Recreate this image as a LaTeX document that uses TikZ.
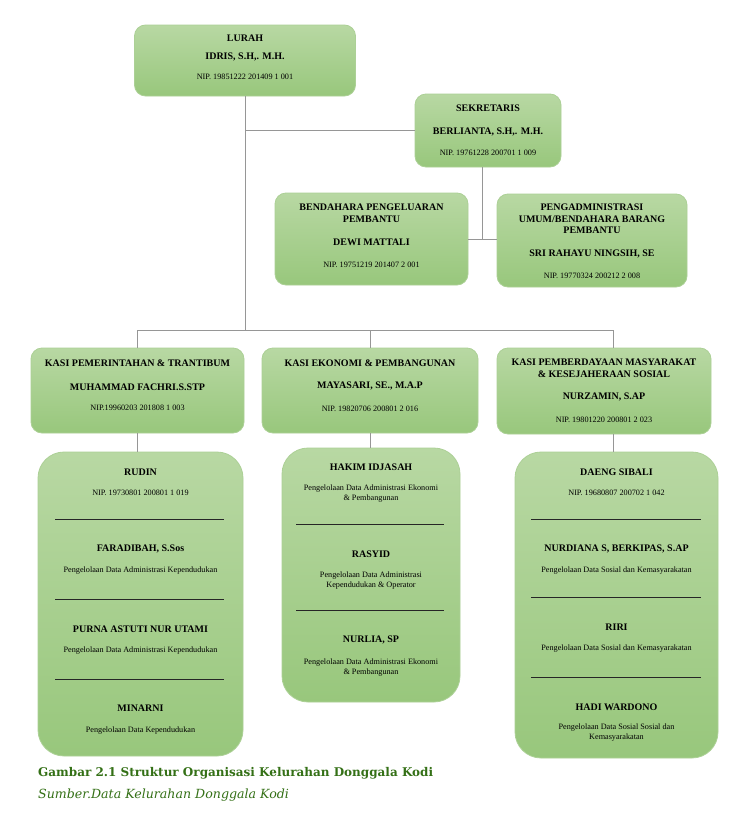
\documentclass[tikz,border=0pt]{standalone}
\usepackage{fontspec}
\setmainfont{Liberation Serif}
\newfontfamily\capfont{DejaVu Serif}
\usetikzlibrary{positioning, calc}

\definecolor{boxtop}{RGB}{184,216,163}
\definecolor{boxbot}{RGB}{152,199,124}
\definecolor{boxline}{RGB}{172,208,150}
\definecolor{linkgray}{RGB}{150,150,150}
\definecolor{capgreen}{RGB}{52,112,22}

\tikzset{
  box/.style={draw=boxline, line width=0.8pt, rounded corners=11pt, top color=boxtop, bottom color=boxbot, inner sep=0pt},
  staffbox/.style={box, rounded corners=26pt},
  ttl/.style={font=\bfseries\fontsize{10}{11.5}\selectfont, align=center, inner sep=0pt},
  nip/.style={font=\fontsize{8.2}{10}\selectfont, align=center, inner sep=0pt},
  link/.style={draw=linkgray, line width=0.8pt},
  sepline/.style={draw=black!85, line width=0.9pt}
}

\begin{document}
\begin{tikzpicture}[x=1pt, y=-1pt]
        \path[use as bounding box, fill=white] (0,0) rectangle (744,819);

        % lurah and sekretaris
        \node[box, minimum width=221, minimum height=71] (lurah) at (245,60.5) {};
        \node[ttl] (lurahT) at (245,38) {LURAH};
        \node[ttl] (lurahN) at (245,57) {IDRIS, S.H,. M.H.};
        \node[nip] (lurahP) at (245,77) {NIP. 19851222 201409 1 001};

        \node[box, minimum width=146, minimum height=73] (sek) at (488,130.5) {};
        \node[ttl] (sekT) at (488,108) {SEKRETARIS};
        \node[ttl] (sekN) at (488,132) {BERLIANTA, S.H,. M.H.};
        \node[nip] (sekP) at (488,153) {NIP. 19761228 200701 1 009};

        % bendahara and pengadministrasi
        \node[box, minimum width=193, minimum height=92] (bend) at (371.5,239) {};
        \node[ttl] (bendT) at (371.5,213) {BENDAHARA PENGELUARAN\\PEMBANTU};
        \node[ttl] (bendN) at (371.5,242) {DEWI MATTALI};
        \node[nip] (bendP) at (371.5,265) {NIP. 19751219 201407 2 001};

        \node[box, minimum width=190, minimum height=93] (adm) at (592,240.5) {};
        \node[ttl] (admT) at (592,219) {PENGADMINISTRASI\\UMUM/BENDAHARA BARANG\\PEMBANTU};
        \node[ttl] (admN) at (592,254) {SRI RAHAYU NINGSIH, SE};
        \node[nip] (admP) at (592,276) {NIP. 19770324 200212 2 008};

        % kasi
        \node[box, minimum width=213, minimum height=85] (kasiA) at (137.5,390.5) {};
        \node[ttl] (kasiAT) at (137.5,363) {KASI PEMERINTAHAN \& TRANTIBUM};
        \node[ttl] (kasiAN) at (137.5,387) {MUHAMMAD FACHRI.S.STP};
        \node[nip] (kasiAP) at (137.5,408) {NIP.19960203 201808 1 003};

        \node[box, minimum width=216, minimum height=85] (kasiB) at (370,390.5) {};
        \node[ttl] (kasiBT) at (370,363) {KASI EKONOMI \& PEMBANGUNAN};
        \node[ttl] (kasiBN) at (370,386) {MAYASARI, SE., M.A.P};
        \node[nip] (kasiBP) at (370,409) {NIP. 19820706 200801 2 016};

        \node[box, minimum width=214, minimum height=86] (kasiC) at (604,391) {};
        \node[ttl] (kasiCT) at (604,368) {KASI PEMBERDAYAAN MASYARAKAT\\\& KESEJAHERAAN SOSIAL};
        \node[ttl] (kasiCN) at (604,397) {NURZAMIN, S.AP};
        \node[nip] (kasiCP) at (604,420) {NIP. 19801220 200801 2 023};

        % staff boxes
        \node[staffbox, minimum width=205, minimum height=304] (staffA) at (140.5,604) {};
        \node[ttl] (a1) at (140.5,472) {RUDIN};
        \node[nip] (a1d) at (140.5,493) {NIP. 19730801 200801 1 019};
        \node[ttl] (a2) at (140.5,549) {FARADIBAH, S.Sos};
        \node[nip] (a2d) at (140.5,571) {Pengelolaan Data Administrasi Kependudukan};
        \node[ttl] (a3) at (140.5,629) {PURNA ASTUTI NUR UTAMI};
        \node[nip] (a3d) at (140.5,651) {Pengelolaan Data Administrasi Kependudukan};
        \node[ttl] (a4) at (140.5,708) {MINARNI};
        \node[nip] (a4d) at (140.5,731) {Pengelolaan Data Kependudukan};
        \foreach \y in {519,599,679}
        {
            \draw[sepline] (55,\y) -- (224,\y);
        }

        \node[staffbox, minimum width=178, minimum height=254] (staffB) at (371,575) {};
        \node[ttl] (b1) at (371,467) {HAKIM IDJASAH};
        \node[nip] (b1d) at (371,493.5) {Pengelolaan Data Administrasi Ekonomi\\\& Pembangunan};
        \node[ttl] (b2) at (371,554) {RASYID};
        \node[nip] (b2d) at (371,581) {Pengelolaan Data Administrasi\\Kependudukan \& Operator};
        \node[ttl] (b3) at (371,640) {NURLIA, SP};
        \node[nip] (b3d) at (371,668) {Pengelolaan Data Administrasi Ekonomi\\\& Pembangunan};
        \foreach \y in {524,610}
        {
            \draw[sepline] (296,\y) -- (444,\y);
        }

        \node[staffbox, minimum width=203, minimum height=306] (staffC) at (616.5,605) {};
        \node[ttl] (c1) at (616.5,472) {DAENG SIBALI};
        \node[nip] (c1d) at (616.5,493) {NIP. 19680807 200702 1 042};
        \node[ttl] (c2) at (616.5,549) {NURDIANA S, BERKIPAS, S.AP};
        \node[nip] (c2d) at (616.5,571) {Pengelolaan Data Sosial dan Kemasyarakatan};
        \node[ttl] (c3) at (616.5,627) {RIRI};
        \node[nip] (c3d) at (616.5,649) {Pengelolaan Data Sosial dan Kemasyarakatan};
        \node[ttl] (c4) at (616.5,707) {HADI WARDONO};
        \node[nip] (c4d) at (616.5,733) {Pengelolaan Data Sosial Sosial dan\\Kemasyarakatan};
        \foreach \y in {519,597,677}
        {
            \draw[sepline] (531,\y) -- (701,\y);
        }

        % connectors
        \coordinate (busA) at (kasiA.north |- 0,330);
        \coordinate (busB) at (kasiB.north |- 0,330);
        \coordinate (busC) at (613,330);
        \coordinate (sekDown) at (482,0);
        \draw[link] (lurah.south) -- (lurah.south |- busA);
        \draw[link] (lurah.south |- sek.west) -- (sek.west);
        \draw[link] (sekDown |- sek.south) -- (sekDown |- bend.east);
        \draw[link] (bend.east) -- (adm.west |- bend.east);
        \draw[link] (busA) -- (busC);
        \foreach \k/\b in {A/busA,B/busB,C/busC}{
            \draw[link] (\b) -- (\b |- kasi\k.north);
            \draw[link] (\b |- kasi\k.south) -- (\b |- staff\k.north);
        }

        % caption
        \node[anchor=base west, inner sep=0pt, text=capgreen, font=\capfont\bfseries\fontsize{12}{14}\selectfont] (capT) at (38,776) {Gambar 2.1 Struktur Organisasi Kelurahan Donggala Kodi};
        \node[anchor=base west, inner sep=0pt, text=capgreen, font=\capfont\itshape\fontsize{12.6}{14}\selectfont] (capS) at (38,798) {Sumber.Data Kelurahan Donggala Kodi};
\end{tikzpicture}
\end{document}
